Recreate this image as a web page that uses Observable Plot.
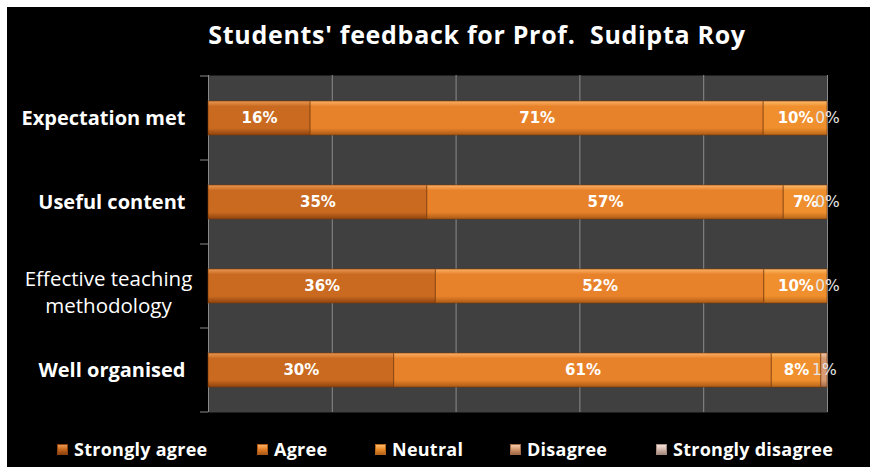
<!DOCTYPE html>
<html><head><meta charset="utf-8">
<script src="https://cdn.jsdelivr.net/npm/d3@7"></script>
<script src="https://cdn.jsdelivr.net/npm/@observablehq/plot@0.6"></script>
<style>
html,body{margin:0;padding:0;background:#fff;width:870px;height:467px;overflow:hidden;position:relative;}
#bg{position:absolute;left:7px;top:7px;width:863px;height:460px;background:#000;}
#title{position:absolute;left:77px;top:19px;width:800px;text-align:center;color:#fff;font:bold 25px/30px "Open Sans", sans-serif;white-space:pre;letter-spacing:0.7px;}
#chart{position:absolute;left:0;top:60px;}
#legend{position:absolute;left:0;top:437px;width:870px;height:24px;}
.item{position:absolute;top:0;display:flex;align-items:center;color:#fff;font:bold 18px/24px "Open Sans", sans-serif;letter-spacing:0.25px;white-space:nowrap;}
.sw{width:11px;height:11px;margin-right:6px;box-sizing:border-box;}
</style></head>
<body>
<div id="bg"></div>
<div id="title">Students' feedback for Prof.  Sudipta Roy</div>
<div id="chart"></div>
<div id="legend"></div>
<script>
const categories = ["Expectation met", "Useful content", "Effective teaching methodology", "Well organised"];
const yLabels = ["Expectation met", "Useful content", "Effective teaching\nmethodology", "Well organised"];
const series = ["Strongly agree", "Agree", "Neutral", "Disagree", "Strongly disagree"];
const stronglyAgree = [16, 35, 36, 30];
const agree = [71, 57, 52, 61];
const neutral = [10, 7, 10, 8];
const disagree = [0, 0, 0, 1];
const stronglyDisagree = [0, 0, 0, 0];
const gridTicks = [0, 0.2, 0.4, 0.6, 0.8, 1];

const seriesValues = [stronglyAgree, agree, neutral, disagree, stronglyDisagree];
const baseColors = ["#C96A20", "#E8822A", "#EF8F2D", "#D89B72", "#DABDB1"];
const lightColors = ["#EA9852", "#FBB066", "#FEBB6C", "#F3C9A9", "#F4E3DB"];
const darkColors = ["#8E430E", "#AC5A15", "#B86619", "#A46B48", "#A58B81"];
const boldSeries = ["Strongly agree", "Agree", "Neutral"];
const labelledLight = ["Disagree"];

const rows = [];
categories.forEach((cat, i) => {
  series.forEach((s, j) => rows.push({cat, series: s, value: seriesValues[j][i]}));
});

const plot = Plot.plot({
  width: 870,
  height: 360,
  marginLeft: 208,
  marginRight: 43,
  marginTop: 15,
  marginBottom: 8,
  style: {background: "transparent", color: "#fff", overflow: "visible", fontFamily: "'Open Sans', sans-serif"},
  x: {domain: [0, 1], axis: null},
  y: {domain: categories, axis: null, paddingInner: 0.6, paddingOuter: 0.3},
  color: {domain: series, range: series.map((_, i) => `url(#grad${i})`)},
  marks: [
    Plot.frame({fill: "#404040", stroke: null}),
    Plot.ruleX(gridTicks, {stroke: "#8a8a8a", strokeWidth: 1}),
    Plot.barX(rows, Plot.stackX({x: "value", y: "cat", fill: "series", offset: "normalize", stroke: "#7a3a0c", strokeOpacity: 0.6, strokeWidth: 1})),
    Plot.text(rows, Plot.stackX({x: "value", y: "cat", offset: "normalize",
      text: d => boldSeries.includes(d.series) ? d.value + "%" : null,
      fill: "#fff", fontWeight: "bold", fontSize: 15, fontFamily: "DejaVu Sans"})),
    Plot.text(rows, Plot.stackX({x: "value", y: "cat", offset: "normalize",
      text: d => labelledLight.includes(d.series) ? d.value + "%" : null,
      fill: "#e6e6e6", fontSize: 15.5, fontFamily: "DejaVu Sans"})),
    Plot.text(categories, {y: d => d, text: (d, i) => i === 2 ? null : yLabels[i],
      frameAnchor: "left", textAnchor: "end", dx: -23, fontWeight: "bold", fontSize: 20, fill: "#fff", style: "letter-spacing:0.3px"}),
    Plot.text(categories, {y: d => d, text: (d, i) => i === 2 ? yLabels[i] : null,
      frameAnchor: "left", textAnchor: "middle", dx: -100, dy: 4, lineHeight: 1.35, fontSize: 20.5, fill: "#fff"})
  ]
});

const svg = d3.select(plot);
const defs = svg.insert("defs", ":first-child");
series.forEach((s, i) => {
  const g = defs.append("linearGradient").attr("id", `grad${i}`).attr("x1", 0).attr("y1", 0).attr("x2", 0).attr("y2", 1);
  g.append("stop").attr("offset", "0").attr("stop-color", lightColors[i]);
  g.append("stop").attr("offset", "0.16").attr("stop-color", baseColors[i]);
  g.append("stop").attr("offset", "0.8").attr("stop-color", baseColors[i]);
  g.append("stop").attr("offset", "1").attr("stop-color", darkColors[i]);
});

// letter spacing on the bold category labels
svg.selectAll("text").filter(function() { return this.getAttribute("font-weight") === "bold" && this.getAttribute("font-size") === "20"; })
  .style("letter-spacing", "0.3px");

// left axis tick marks at category boundaries
const yS = plot.scale("y");
const xS = plot.scale("x");
const yf = yS.apply ? yS.apply : d3.scaleBand(yS.domain, yS.range).paddingInner(yS.paddingInner).paddingOuter(yS.paddingOuter);
const xf = xS.apply ? xS.apply : d3.scaleLinear(xS.domain, xS.range);
const bw = yS.bandwidth;
const centers = categories.map(c => yf(c) + bw / 2);
const step = centers[1] - centers[0];
const bounds = [centers[0] - step / 2, ...centers.map(c => c + step / 2)];
const x0 = xf(0);
const tg = svg.append("g").attr("stroke", "#8a8a8a").attr("stroke-width", 1);
bounds.forEach(b => tg.append("line").attr("x1", x0 - 8).attr("x2", x0).attr("y1", b).attr("y2", b));

document.getElementById("chart").appendChild(plot);

// legend
const legendLeft = [57, 257, 375, 510, 656];
const legend = document.getElementById("legend");
series.forEach((s, i) => {
  const it = document.createElement("div");
  it.className = "item";
  it.style.left = legendLeft[i] + "px";
  const sw = document.createElement("span");
  sw.className = "sw";
  sw.style.background = `linear-gradient(to bottom, ${lightColors[i]} 0%, ${baseColors[i]} 45%, ${darkColors[i]} 100%)`;
  sw.style.border = `1px solid ${darkColors[i]}`;
  it.appendChild(sw);
  const t = document.createElement("span");
  t.textContent = s;
  it.appendChild(t);
  legend.appendChild(it);
});
</script>
</body></html>
